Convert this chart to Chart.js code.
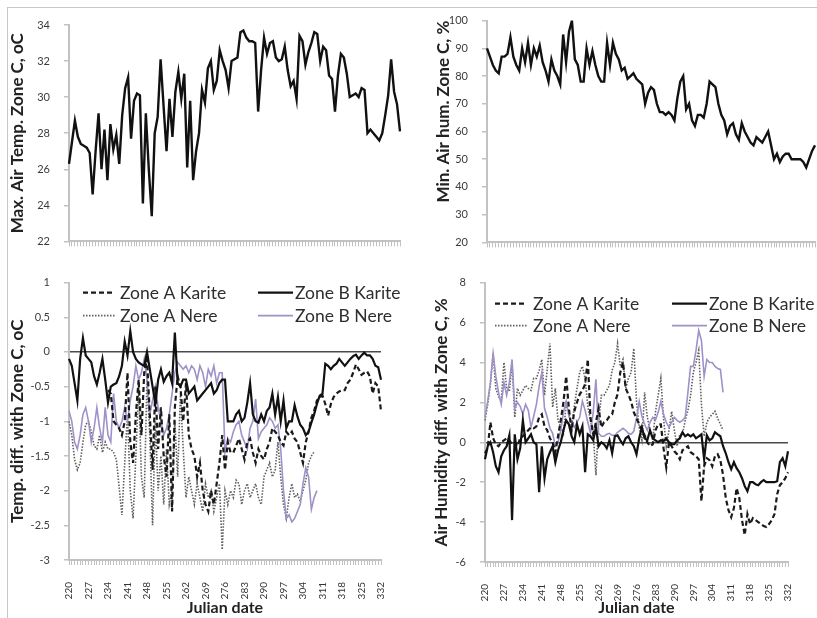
<!DOCTYPE html>
<html>
<head>
<meta charset="utf-8">
<script src="https://cdn.jsdelivr.net/npm/chart.js@4.4.1/dist/chart.umd.min.js"></script>
<style>
  html, body { margin: 0; padding: 0; background: #ffffff; }
  #page { position: relative; width: 817px; height: 618px; overflow: hidden; background: #fff; }
  #frame { position: absolute; left: 7px; top: 7px; width: 830px; height: 630px;
           border-left: 1px solid #c8c8c8; border-top: 1px solid #c8c8c8; }
  canvas { position: absolute; }
</style>
</head>
<body>
<div id="page">
  <div id="frame"></div>
  <canvas id="cMaxTemp" width="410" height="262" style="left:0;top:0"></canvas>
  <canvas id="cMinHum" width="407" height="263" style="left:410px;top:0"></canvas>
  <canvas id="cTempDiff" width="410" height="356" style="left:0;top:262px"></canvas>
  <canvas id="cHumDiff" width="407" height="356" style="left:410px;top:262px"></canvas>
</div>
<script>
// Julian days of the measurement period
const julianDays = [
  220,221,222,223,224,225,226,227,228,229,230,231,232,233,234,235,236,237,238,239,
  240,241,242,243,244,245,246,247,248,249,250,251,252,253,254,255,256,257,258,259,
  260,261,262,263,264,265,266,267,268,269,270,271,272,273,274,275,276,277,278,279,
  280,281,282,283,284,285,286,287,288,289,290,291,292,293,294,295,296,297,298,299,
  300,301,302,303,304,305,306,307,308,309,310,311,312,313,314,315,316,317,318,319,
  320,321,322,323,324,325,326,327,328,329,330,331,332
];
// Days that carry a label on the date axis
const labelledDays = [220,227,234,241,248,255,262,269,276,283,290,297,304,311,318,325,332];

// Zone C daily maximum air temperature (oC)
const maxAirTempC = [
  26.3,27.5,28.7,27.8,27.4,27.3,27.2,26.9,24.6,27.0,29.1,26.0,28.2,25.4,28.5,27.1,27.9,26.3,29.0,30.5,
  31.1,27.7,29.8,30.2,30.1,24.1,29.1,26.0,23.4,28.0,28.9,32.1,29.5,27.0,29.9,27.8,30.3,31.4,29.9,31.3,
  26.1,29.8,25.4,27.0,28.0,30.4,29.7,31.6,32.0,30.4,30.9,32.6,32.0,31.5,30.5,32.0,32.1,32.2,33.6,33.7,
  33.3,33.1,33.1,33.0,29.2,31.5,33.3,32.4,33.0,33.1,32.2,32.0,32.1,32.8,31.5,30.6,30.9,29.9,33.4,33.1,
  31.8,32.5,33.0,33.6,33.5,32.0,32.8,32.6,31.2,31.0,29.2,31.2,32.4,32.2,31.3,30.0,30.1,30.2,30.0,30.5,
  30.4,28.0,28.2,28.0,27.8,27.6,28.0,29.0,30.1,32.1,30.3,29.6,28.1
];

// Zone C daily minimum air humidity (%)
const minAirHumC = [
  90,87,84,82,81,87,87,88,94,87,84,82,90,85,92,84,90,87,91,85,
  82,78,86,82,80,77,95,85,96,100,86,84,78,78,90,84,89,84,80,78,
  78,92,84,92,88,86,82,83,79,80,81,79,78,77,70,74,76,75,70,67,
  67,66,67,66,64,72,78,80,68,70,64,62,66,66,65,70,78,77,76,70,
  66,64,59,62,63,59,57,63,60,58,56,55,58,57,56,58,60,55,50,52,
  49,51,52,52,50,50,50,50,49,47,50,53,55
];

// Temperature difference with zone C (oC)
const tempZoneAKarite = [
  null,null,null,null,null,null,null,null,null,null,null,null,null,null,-0.55,-0.60,-1.00,-1.05,-1.10,-1.20,
  -1.00,-0.30,-1.30,-1.60,-0.90,-0.40,-1.20,-0.30,-0.10,-0.90,-1.70,-0.50,-1.40,-0.80,-1.50,-1.80,-0.90,-2.30,-0.80,-0.35,
  -0.50,-1.00,-0.45,-1.20,-1.40,-1.50,-1.80,-1.60,-2.00,-2.20,-2.30,-2.00,-2.20,-1.90,-1.60,-1.20,-1.70,-1.30,-1.45,-1.45,
  -1.35,-1.25,-1.40,-1.55,-1.30,-1.25,-1.45,-1.60,-1.40,-1.50,-1.55,-1.40,-1.30,-1.10,-1.15,-1.20,-1.30,-1.35,-1.15,-1.20,
  -1.15,-1.25,-1.30,-1.45,-1.60,-1.30,-1.15,-0.95,-0.85,-0.70,-0.65,-0.63,-0.75,-0.92,-0.75,-0.65,-0.60,-0.57,-0.55,-0.55,
  -0.45,-0.40,-0.30,-0.18,-0.25,-0.33,-0.30,-0.28,-0.35,-0.60,-0.45,-0.50,-0.85
];
const tempZoneBKarite = [
  -0.10,-0.20,-0.45,-0.70,-0.10,0.20,-0.05,-0.10,-0.15,-0.35,-0.47,-0.30,-0.10,-0.40,-0.73,-0.50,-0.47,-0.45,-0.35,-0.20,
  0.15,-0.05,0.30,0.00,-0.10,-0.15,-0.18,-0.20,0.00,-0.25,-0.50,-0.75,-0.40,-0.25,-0.43,-0.35,-0.30,-0.45,0.28,-0.45,
  -0.50,-0.40,-0.40,-0.60,-0.55,-0.50,-0.70,-0.65,-0.60,-0.55,-0.50,-0.45,-0.60,-0.55,-0.45,-0.40,-0.40,-1.00,-1.00,-1.00,
  -0.90,-0.85,-1.00,-0.95,-0.73,-0.45,-0.90,-1.00,-1.02,-0.90,-1.00,-0.85,-0.80,-0.60,-0.90,-0.65,-1.00,-0.70,-1.10,-1.00,
  -1.00,-0.77,-0.93,-1.05,-1.10,-1.20,-1.15,-1.02,-0.90,-0.75,-0.63,-0.60,-0.17,-0.20,-0.25,-0.20,-0.17,-0.10,-0.15,-0.20,
  -0.15,-0.10,-0.06,-0.04,-0.10,-0.05,-0.01,-0.05,-0.05,-0.10,-0.20,-0.22,-0.40
];
const tempZoneANere = [
  -1.00,-1.20,-1.55,-1.70,-1.60,-1.30,-1.05,-1.00,-1.15,-1.35,-1.40,-1.20,-1.45,-1.30,-1.40,-1.40,-1.45,-1.55,-1.95,-2.35,
  -1.60,-0.90,-2.00,-2.40,-1.50,-0.50,-1.80,-2.10,-0.40,-1.20,-2.50,-1.00,-2.00,-1.50,-2.20,-1.40,-2.20,-2.00,-1.00,-1.80,
  -0.60,-1.40,-2.10,-1.80,-2.00,-2.20,-1.90,-2.10,-2.30,-1.90,-2.10,-2.00,-2.30,-2.10,-1.90,-2.85,-2.00,-2.20,-2.00,-2.10,
  -1.85,-1.90,-2.20,-2.00,-1.90,-2.10,-2.00,-1.90,-2.10,-2.20,-1.80,-1.70,-1.60,-1.80,-1.70,-1.30,-1.80,-2.20,-2.40,-2.10,
  -1.90,-2.10,-2.05,-2.15,-2.00,-1.85,-1.60,-1.50,-1.44,null,null,null,null,null,null,null,null,null,null,null,
  null,null,null,null,null,null,null,null,null,null,null,null,null
];
const tempZoneBNere = [
  -0.85,-1.00,-1.30,-1.40,-1.20,-0.90,-0.80,-1.00,-1.30,-1.10,-0.80,-1.10,-1.30,-0.80,-1.20,-1.30,-0.60,-1.00,-1.10,-1.00,
  -0.80,-1.00,-0.70,-0.50,-0.20,-0.40,-0.30,-0.10,-0.40,-0.90,-0.70,-0.50,-0.80,-1.00,-1.20,-1.10,-0.90,-0.60,-0.30,-0.15,
  -0.20,-0.25,-0.20,-0.30,-0.20,-0.25,-0.40,-0.20,-0.30,-0.50,-0.25,-0.35,-0.20,-0.45,-0.30,-0.30,-1.45,-1.25,-1.30,-1.15,
  -1.05,-1.00,-1.20,-1.30,-1.40,-1.10,-1.00,-0.68,-1.25,-1.15,-1.10,-1.05,-0.95,-1.00,-1.10,-1.05,-1.40,-2.00,-2.40,-2.35,
  -2.45,-2.40,-2.30,-2.20,-1.90,-1.67,-1.80,-2.27,-2.10,-2.00,null,null,null,null,null,null,null,null,null,null,
  null,null,null,null,null,null,null,null,null,null,null,null,null
];

// Air humidity difference with zone C (%)
const humZoneAKarite = [
  -0.55,-0.30,1.00,0.20,-0.10,-0.20,0.00,0.10,0.20,0.10,-0.10,0.00,-0.20,0.20,0.30,0.45,0.60,0.75,0.70,0.80,
  1.25,1.40,0.80,0.60,0.20,0.00,-0.50,0.30,1.10,2.00,3.30,1.70,0.60,1.55,2.00,2.40,2.60,2.90,4.15,1.20,
  0.40,1.00,1.70,0.75,1.00,1.10,1.30,1.40,2.00,2.40,3.50,4.00,2.70,2.40,2.05,1.50,1.20,0.90,0.60,0.35,
  0.00,-0.20,-0.10,0.60,0.90,0.90,-0.30,-1.25,0.00,-0.20,-0.45,-0.60,-0.85,-0.40,-0.30,-0.20,-0.50,-0.60,-0.70,-0.85,
  -2.95,-1.20,-0.80,-0.90,-1.20,-0.70,-0.60,-0.90,-1.65,-2.80,-3.40,-3.75,-3.30,-2.30,-2.80,-3.90,-4.65,-3.60,-4.10,-3.80,
  -3.90,-4.00,-4.10,-4.20,-4.25,-4.10,-3.90,-3.60,-2.60,-2.15,-2.00,-1.80,-1.50
];
const humZoneBKarite = [
  -0.85,-0.20,0.00,-0.50,-1.20,-1.50,-0.70,-0.40,-0.20,0.35,-3.90,0.40,-0.85,-0.30,1.10,0.00,0.20,0.40,0.00,-0.10,
  -2.50,-0.20,-1.80,-0.85,-0.50,-0.20,-1.00,-0.40,0.00,0.60,1.10,0.90,0.30,0.00,0.90,0.40,0.80,-1.50,0.40,0.30,
  0.10,0.75,-0.20,0.00,-0.10,-0.30,0.10,-0.55,0.30,0.35,0.10,-0.10,0.20,0.30,0.00,-0.20,-0.60,0.20,0.75,0.20,
  0.10,0.60,0.20,0.10,0.00,0.10,0.05,0.20,0.00,-0.10,-0.10,0.10,0.20,0.50,0.30,0.40,0.30,0.40,0.20,0.30,
  0.40,-0.85,0.35,0.10,0.20,0.50,0.40,0.30,-0.20,-0.55,-1.00,-1.35,-1.00,-1.30,-1.50,-1.80,-2.20,-2.45,-2.00,-2.00,
  -2.10,-2.15,-2.00,-1.90,-2.00,-2.00,-2.00,-2.00,-1.95,-1.00,-0.80,-1.20,-0.45
];
const humZoneANere = [
  1.10,1.90,2.90,4.45,2.70,2.30,2.05,4.00,2.70,2.55,4.00,1.25,2.70,2.35,2.60,2.85,2.70,2.60,3.20,3.20,
  3.60,4.15,2.35,3.65,4.95,1.75,2.70,1.08,0.80,0.43,1.90,1.50,0.75,1.80,2.70,3.50,3.80,3.20,1.80,1.08,
  0.43,-1.65,1.00,2.35,2.35,2.60,2.85,3.60,4.00,4.95,3.80,4.15,2.70,3.20,3.50,4.70,2.05,0.75,0.10,2.50,
  1.25,0.60,0.10,1.50,2.35,3.20,1.20,-0.20,0.60,1.55,0.60,-0.20,0.40,0.40,1.10,1.60,2.35,3.50,4.00,4.60,
  1.90,0.30,1.00,1.25,1.40,1.55,1.20,0.90,0.60,null,null,null,null,null,null,null,null,null,null,null,
  null,null,null,null,null,null,null,null,null,null,null,null,null
];
const humZoneBNere = [
  1.25,2.05,3.00,4.45,3.30,2.50,1.90,3.00,2.35,3.00,4.15,1.70,2.00,1.80,1.40,1.90,1.60,0.75,1.30,1.90,
  2.80,3.50,1.70,1.25,0.70,0.45,-0.20,0.00,0.60,1.50,2.05,1.30,1.00,0.75,1.00,1.25,2.05,1.60,1.00,0.45,
  1.50,3.15,0.45,0.30,0.30,0.40,0.45,0.35,0.35,0.50,0.60,0.70,0.60,0.45,0.40,0.55,1.20,2.05,1.30,0.90,
  0.60,1.00,1.25,1.10,1.50,2.05,1.40,1.00,0.75,1.00,1.25,1.10,1.00,1.10,1.25,2.50,3.80,3.80,4.60,5.60,
  5.10,3.30,4.15,4.00,4.00,3.80,3.70,3.65,2.50,null,null,null,null,null,null,null,null,null,null,null,
  null,null,null,null,null,null,null,null,null,null,null,null,null
];

const FONT = 'Lato, "Open Sans", "Liberation Sans", sans-serif';
const AXIS_GREY = '#c2c2c2';
const TICK_TEXT = '#3c3c3c';

// Series styles for the four zone/tree combinations
const STYLE = {
  aKarite: { borderColor: '#1a1a1a', borderWidth: 2.2, borderDash: [5, 3] },
  bKarite: { borderColor: '#111111', borderWidth: 2.2, borderDash: [] },
  aNere:   { borderColor: '#5e5e5e', borderWidth: 1.6, borderDash: [1.5, 1.5] },
  bNere:   { borderColor: '#a091c8', borderWidth: 1.6, borderDash: [] }
};

// Legend drawn inside the plot area, reusing each dataset's own line style
const insideLegend = {
  id: 'insideLegend',
  afterDraw(chart, args, opts) {
    if (!opts || !opts.items) return;
    const { ctx, chartArea } = chart;
    ctx.save();
    ctx.font = opts.fontSize + 'px ' + FONT;
    ctx.textBaseline = 'middle';
    ctx.textAlign = 'left';
    for (const it of opts.items) {
      const ds = chart.data.datasets[it.index];
      const x0 = chartArea.left + it.x;
      const y = chartArea.top + it.y;
      ctx.beginPath();
      ctx.setLineDash(ds.borderDash || []);
      ctx.strokeStyle = ds.borderColor;
      ctx.lineWidth = ds.borderWidth;
      ctx.moveTo(x0, y);
      ctx.lineTo(x0 + it.w, y);
      ctx.stroke();
      ctx.setLineDash([]);
      ctx.fillStyle = '#2e2e2e';
      ctx.fillText(ds.label, x0 + it.w + it.gap, y + 1);
    }
    ctx.restore();
  }
};

function dateAxis(showLabels, axisHeight) {
  return {
    type: 'category',
    offset: false,
    ticks: {
      display: showLabels,
      autoSkip: false,
      minRotation: 90,
      maxRotation: 90,
      padding: 17,
      color: '#333333',
      font: { family: FONT, size: 10 },
      callback: function (value) {
        const d = Number(this.getLabelForValue(value));
        return labelledDays.includes(d) ? String(d) : '';
      }
    },
    grid: { drawOnChartArea: false, drawTicks: true, tickLength: 5, color: AXIS_GREY, tickColor: AXIS_GREY, tickWidth: 1 },
    border: { display: true, color: AXIS_GREY, width: 2 },
    title: {
      display: showLabels,
      text: 'Julian date',
      color: '#222222',
      font: { family: FONT, size: 16, weight: 'bold' },
      padding: { top: 0, bottom: 1 }
    },
    afterFit(scale) { scale.height = axisHeight; }
  };
}

function valueAxis(o) {
  return {
    min: o.min,
    max: o.max,
    ticks: {
      stepSize: o.step,
      padding: 14,
      color: TICK_TEXT,
      font: { family: FONT, size: 11 },
      callback: v => String(v)
    },
    grid: {
      drawOnChartArea: !!o.zeroLine,
      drawTicks: true,
      tickLength: 5,
      tickColor: AXIS_GREY,
      lineWidth: 1.5,
      color: ctx => (o.zeroLine && ctx.tick && ctx.tick.value === 0) ? '#4a4a4a' : 'rgba(0,0,0,0)'
    },
    border: { display: true, color: AXIS_GREY, width: 2 },
    title: {
      display: true,
      text: o.title,
      align: o.align || 'center',
      color: '#222222',
      font: { family: FONT, size: 17, weight: 'bold' },
      padding: { top: o.titlePad, bottom: 0 }
    },
    afterFit(scale) { scale.width = o.width; }
  };
}

function lineSet(label, data, style) {
  return Object.assign({
    label: label,
    data: data,
    fill: false,
    pointRadius: 0,
    tension: 0,
    spanGaps: false
  }, style);
}

function baseOptions(padding, scales, legendItems) {
  return {
    responsive: false,
    animation: false,
    events: [],
    layout: { padding: padding, autoPadding: false },
    scales: scales,
    plugins: {
      legend: { display: false },
      tooltip: { enabled: false },
      insideLegend: { items: legendItems || null, fontSize: 17.5 }
    }
  };
}

Chart.register(insideLegend);

// Maximum air temperature, zone C
new Chart(document.getElementById('cMaxTemp'), {
  type: 'line',
  data: {
    labels: julianDays,
    datasets: [lineSet('Max. Air Temp. Zone C', maxAirTempC, { borderColor: '#111111', borderWidth: 2.4 })]
  },
  options: baseOptions({ top: 25, right: 10, bottom: 0, left: 0 }, {
    x: dateAxis(false, 10),
    y: valueAxis({ min: 22, max: 34, step: 2, title: 'Max. Air Temp. Zone C, oC', titlePad: 7, width: 69 })
  })
});

// Minimum air humidity, zone C
new Chart(document.getElementById('cMinHum'), {
  type: 'line',
  data: {
    labels: julianDays,
    datasets: [lineSet('Min. Air hum. Zone C', minAirHumC, { borderColor: '#111111', borderWidth: 2.4 })]
  },
  options: baseOptions({ top: 17, right: 2, bottom: 0, left: 0 }, {
    x: dateAxis(false, 8),
    y: valueAxis({ min: 20, max: 100, step: 10, title: 'Min. Air hum. Zone C, %', titlePad: 23, width: 77, align: 'end' })
  })
});

// Temperature differences with zone C
new Chart(document.getElementById('cTempDiff'), {
  type: 'line',
  data: {
    labels: julianDays,
    datasets: [
      lineSet('Zone B Karite', tempZoneBKarite, STYLE.bKarite),
      lineSet('Zone A Karite', tempZoneAKarite, STYLE.aKarite),
      lineSet('Zone B Nere', tempZoneBNere, STYLE.bNere),
      lineSet('Zone A Nere', tempZoneANere, STYLE.aNere)
    ]
  },
  options: baseOptions({ top: 8, right: 10, bottom: 0, left: 0 }, {
    x: dateAxis(true, 58),
    y: valueAxis({ min: -3, max: 1, step: 0.5, title: 'Temp. diff. with Zone C, oC', titlePad: 7, width: 69, zeroLine: true })
  }, [
    { index: 1, x: 14, y: 10, w: 32, gap: 5 },
    { index: 0, x: 189, y: 10, w: 35, gap: 2 },
    { index: 3, x: 14, y: 33, w: 32, gap: 5 },
    { index: 2, x: 189, y: 33, w: 35, gap: 2 }
  ])
});

// Air humidity differences with zone C
new Chart(document.getElementById('cHumDiff'), {
  type: 'line',
  data: {
    labels: julianDays,
    datasets: [
      lineSet('Zone B Karite', humZoneBKarite, STYLE.bKarite),
      lineSet('Zone A Karite', humZoneAKarite, STYLE.aKarite),
      lineSet('Zone B Nere', humZoneBNere, STYLE.bNere),
      lineSet('Zone A Nere', humZoneANere, STYLE.aNere)
    ]
  },
  options: baseOptions({ top: 10, right: 3, bottom: 0, left: 0 }, {
    x: dateAxis(true, 56),
    y: valueAxis({ min: -6, max: 8, step: 2, title: 'Air Humidity diff. with Zone C, %', titlePad: 21, width: 75, zeroLine: true })
  }, [
    { index: 1, x: 10, y: 21, w: 32, gap: 6 },
    { index: 0, x: 187, y: 21, w: 35, gap: 2 },
    { index: 3, x: 10, y: 43, w: 32, gap: 6 },
    { index: 2, x: 187, y: 43, w: 35, gap: 2 }
  ])
});
</script>
</body>
</html>
